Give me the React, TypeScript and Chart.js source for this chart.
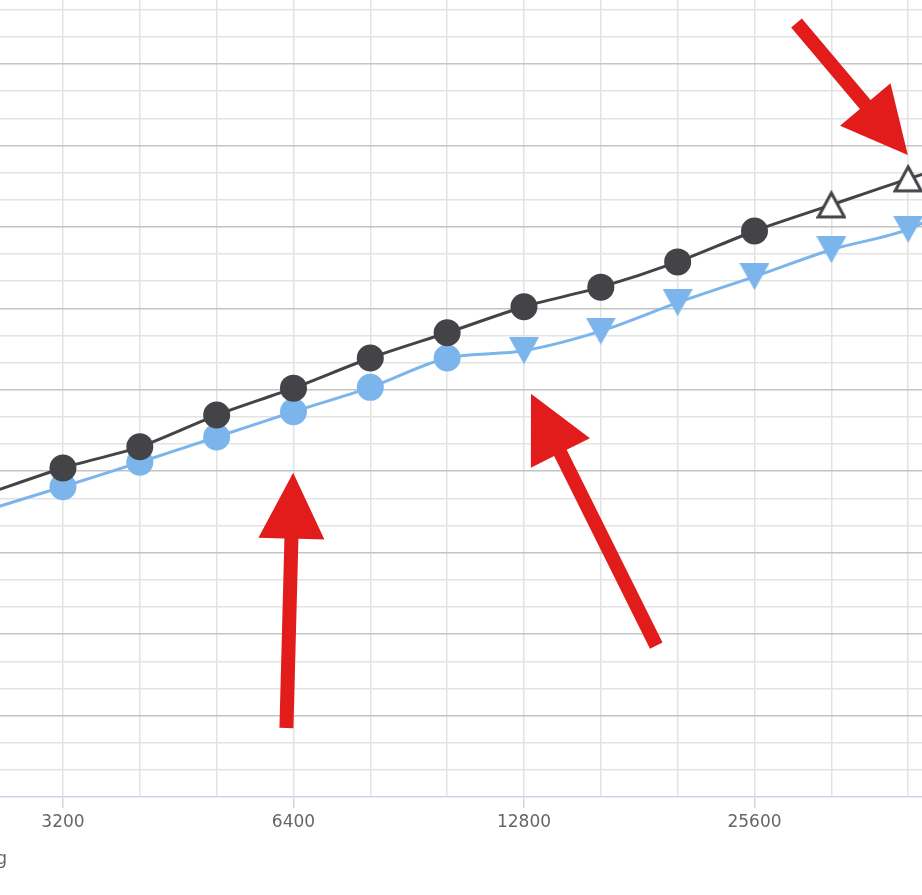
import React, { useEffect, useRef } from 'react';
import { Chart, registerables } from 'chart.js';

Chart.register(...registerables);

// ISO settings (1/3-stop steps)
const isoValues = [2540, 3200, 4032, 5080, 6400, 8063, 10159, 12800, 16127, 20319, 25600, 32254, 40637, 51200];
const isoTickLabels = [1600, 3200, 6400, 12800, 25600, 51200];

// Dark series
const darkValues = [3.72, 4.04, 4.3, 4.69, 5.02, 5.39, 5.7, 6.02, 6.26, 6.57, 6.95, 7.27, 7.59, 7.88];
const darkMarkers = ['circle', 'circle', 'circle', 'circle', 'circle', 'circle', 'circle', 'circle', 'circle', 'circle', 'circle', 'open-up', 'open-up', 'open-up'];

// Blue series
const blueValues = [3.52, 3.81, 4.11, 4.42, 4.73, 5.03, 5.39, 5.48, 5.72, 6.07, 6.39, 6.72, 6.97, 7.45];
const blueMarkers = ['circle', 'circle', 'circle', 'circle', 'circle', 'circle', 'circle', 'down', 'down', 'down', 'down', 'down', 'down', 'down'];

const xAxisTitle = 'ISO Setting';

// Visible window of the axes
const xRange = [2648, 42364];
const yRange = [0, 9.786];

// Red annotation arrows: [iso, value] tail -> tip
const arrowTails = [[6266, 0.847], [19053, 1.858], [29046, 9.504]];
const arrowTips = [[6394, 3.982], [13073, 4.95], [40594, 7.883]];

const DARK = '#434348';
const BLUE = '#7cb5ec';
const RED = '#e21b1b';

function makeTriangleDown(): HTMLCanvasElement {
  const c = document.createElement('canvas');
  c.width = 30;
  c.height = 27;
  const g = c.getContext('2d')!;
  g.fillStyle = BLUE;
  g.beginPath();
  g.moveTo(0, 0);
  g.lineTo(30, 0);
  g.lineTo(15, 27);
  g.closePath();
  g.fill();
  return c;
}

function makeTriangleOpenUp(): HTMLCanvasElement {
  const c = document.createElement('canvas');
  c.width = 30;
  c.height = 30;
  const g = c.getContext('2d')!;
  g.fillStyle = '#ffffff';
  g.strokeStyle = DARK;
  g.lineWidth = 3;
  g.lineJoin = 'miter';
  g.beginPath();
  g.moveTo(15, 3);
  g.lineTo(28, 27);
  g.lineTo(2, 27);
  g.closePath();
  g.fill();
  g.stroke();
  return c;
}

const arrowPlugin = {
  id: 'arrows',
  afterDraw(chart: any) {
    const { ctx, scales } = chart;
    const xs = scales.x;
    const ys = scales.y;
    const shaft = 14;
    const headW = 66;
    const headL = 66;
    ctx.save();
    ctx.fillStyle = RED;
    arrowTails.forEach((t, i) => {
      const p = arrowTips[i];
      const tx = xs.getPixelForValue(t[0]);
      const ty = ys.getPixelForValue(t[1]);
      const px = xs.getPixelForValue(p[0]);
      const py = ys.getPixelForValue(p[1]);
      const len = Math.hypot(px - tx, py - ty);
      const ux = (px - tx) / len;
      const uy = (py - ty) / len;
      const nx = -uy;
      const ny = ux;
      const bx = px - ux * headL;
      const by = py - uy * headL;
      ctx.beginPath();
      ctx.moveTo(tx + nx * shaft / 2, ty + ny * shaft / 2);
      ctx.lineTo(bx + nx * shaft / 2, by + ny * shaft / 2);
      ctx.lineTo(bx + nx * headW / 2, by + ny * headW / 2);
      ctx.lineTo(px, py);
      ctx.lineTo(bx - nx * headW / 2, by - ny * headW / 2);
      ctx.lineTo(bx - nx * shaft / 2, by - ny * shaft / 2);
      ctx.lineTo(tx - nx * shaft / 2, ty - ny * shaft / 2);
      ctx.closePath();
      ctx.fill();
    });
    // x-axis title (mostly outside of the visible crop)
    ctx.fillStyle = '#666666';
    ctx.font = '17px "DejaVu Sans"';
    ctx.textAlign = 'right';
    ctx.textBaseline = 'alphabetic';
    ctx.fillText(xAxisTitle, 7, 864);
    ctx.restore();
  },
};

const isLabeled = (v: number) => isoTickLabels.some((l) => Math.abs(l - v) / l < 0.001);

export default function App() {
  const ref = useRef<HTMLCanvasElement>(null);

  useEffect(() => {
    if (!ref.current) return;
    const triDown = makeTriangleDown();
    const triUp = makeTriangleOpenUp();
    const styleFor = (m: string) => (m === 'down' ? triDown : m === 'open-up' ? triUp : 'circle');

    const chart = new Chart(ref.current, {
      type: 'line',
      data: {
        datasets: [
          {
            label: 'dark',
            data: isoValues.map((x, i) => ({ x, y: darkValues[i] })),
            borderColor: DARK,
            borderWidth: 3,
            tension: 0.25,
            pointStyle: darkMarkers.map(styleFor) as any,
            pointRadius: 13.5,
            pointBackgroundColor: DARK,
            pointBorderWidth: 0,
          },
          {
            label: 'blue',
            data: isoValues.map((x, i) => ({ x, y: blueValues[i] })),
            borderColor: BLUE,
            borderWidth: 3,
            tension: 0.3,
            pointStyle: blueMarkers.map(styleFor) as any,
            pointRadius: 13.5,
            pointBackgroundColor: BLUE,
            pointBorderWidth: 0,
          },
        ],
      },
      options: {
        animation: false,
        responsive: false,
        layout: { padding: 0, autoPadding: false },
        plugins: { legend: { display: false }, tooltip: { enabled: false }, title: { display: false } },
        scales: {
          x: {
            type: 'logarithmic',
            min: xRange[0],
            max: xRange[1],
            afterBuildTicks: (scale: any) => {
              scale.ticks = isoValues.filter((v) => v >= xRange[0] && v <= xRange[1]).map((v) => ({ value: v }));
            },
            afterFit: (scale: any) => {
              scale.height = 98;
            },
            ticks: {
              autoSkip: false,
              maxRotation: 0,
              padding: 4,
              color: '#666666',
              font: { family: '"DejaVu Sans"', size: 17 },
              callback: (v: any) => (isLabeled(Number(v)) ? String(Math.round(Number(v))) : ''),
            },
            grid: {
              color: '#e3e3e3',
              lineWidth: 1.5,
              tickLength: 11,
              tickWidth: 1.5,
              tickColor: (c: any) => (c.tick && isLabeled(c.tick.value) ? '#ccd6eb' : 'rgba(0,0,0,0)'),
            },
            border: { display: true, color: '#ccd6eb', width: 1.5 },
          },
          y: {
            type: 'linear',
            min: yRange[0],
            max: yRange[1],
            afterBuildTicks: (scale: any) => {
              const t: any[] = [];
              for (let k = 1; k / 3 <= yRange[1]; k++) t.push({ value: k / 3 });
              scale.ticks = t;
            },
            afterFit: (scale: any) => {
              scale.width = 0;
            },
            ticks: { display: false },
            grid: {
              drawTicks: false,
              lineWidth: 1.5,
              color: (c: any) => {
                const k = Math.round((c.tick ? c.tick.value : 0) * 3);
                return k % 3 === 0 ? '#c4c4c4' : '#e3e3e3';
              },
            },
            border: { display: false },
          },
        },
      },
      plugins: [arrowPlugin],
    });
    return () => chart.destroy();
  }, []);

  return (
    <div style={{ position: 'fixed', left: 0, top: 0, width: 922, height: 895, overflow: 'hidden', background: '#ffffff' }}>
      <canvas ref={ref} width={922} height={895} style={{ display: 'block' }} />
    </div>
  );
}
